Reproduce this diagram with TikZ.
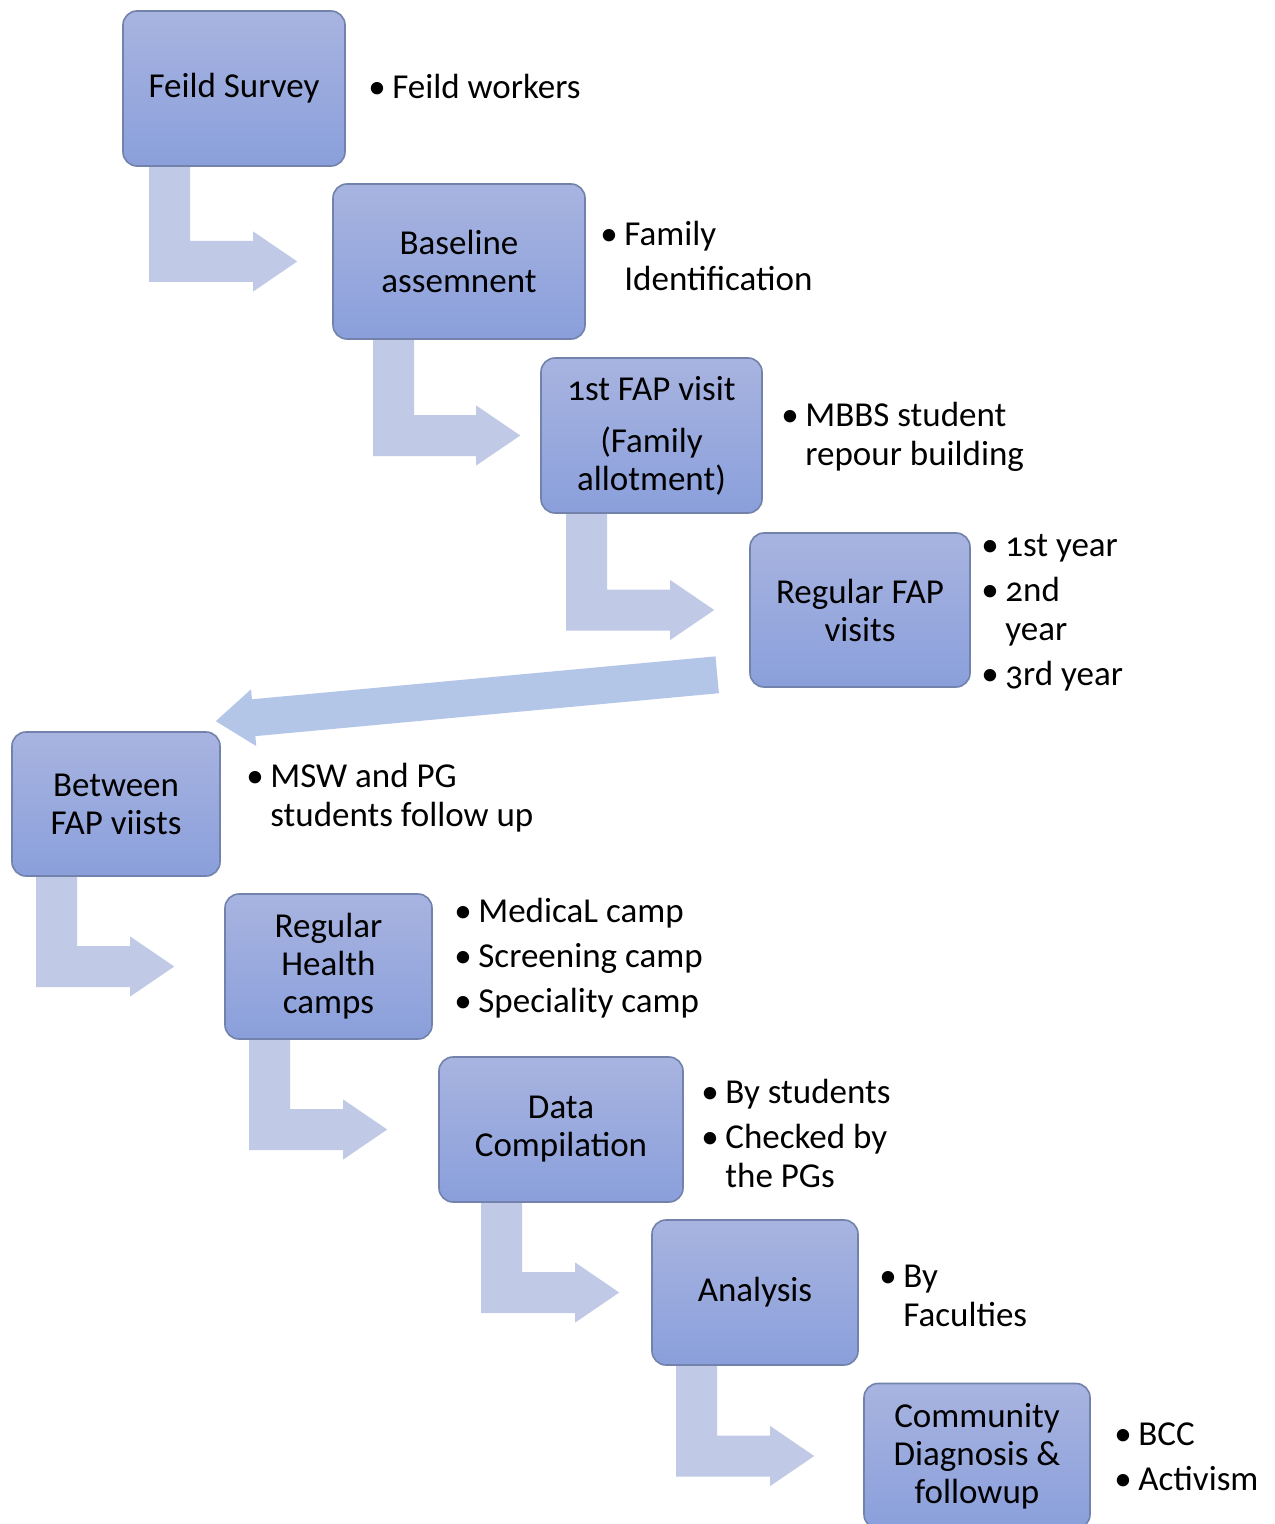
\documentclass[tikz,border=0pt]{standalone}
\usepackage{fontspec}
\setmainfont{Carlito}[Numbers=OldStyle]
\usetikzlibrary{calc,backgrounds}

\definecolor{boxtop}{HTML}{A8B4E0}
\definecolor{boxbot}{HTML}{8A9FDB}
\definecolor{boxline}{HTML}{7282AB}
\definecolor{bentfill}{HTML}{C0CAE6}
\definecolor{longfill}{HTML}{B4C6E7}

% one bullet item inside a note list
\newcommand{\bitem}[1]{\makebox[12pt][l]{\textbullet}&#1}
% bent arrow: from node, to node, bar offset, gap before target
\newcommand{\bentarrow}[4]{%
  \fill[bentfill] let \p1=(#1.south west), \p2=(#2.west) in
    (\x1+#3,\y1) -- (\x1+#3+20.5pt,\y1) -- (\x1+#3+20.5pt,\y2+10.25pt)
    -- (\x2-#4-22pt,\y2+10.25pt) -- (\x2-#4-22pt,\y2+15pt) -- (\x2-#4,\y2)
    -- (\x2-#4-22pt,\y2-15pt) -- (\x2-#4-22pt,\y2-10.25pt)
    -- (\x1+#3,\y2-10.25pt) -- cycle;}

\begin{document}
\begin{tikzpicture}[x=0.5pt, y=-0.5pt,
    stage/.style 2 args={rectangle, draw=boxline, line width=0.8pt,
    top color=boxtop, bottom color=boxbot,
    rounded corners=7pt, align=center, inner sep=2pt,
    minimum width=#1, minimum height=#2,
    font=\fontsize{17.5pt}{19pt}\selectfont},
    note/.style={anchor=west, inner sep=0pt,
    font=\fontsize{17.5pt}{19.5pt}\selectfont}]
    \useasboundingbox (0,0) rectangle (1274,1524);
    % stages
    \node[stage={111pt}{77.5pt}](b1) at (234,88.5) {Feild Survey};
    \node[stage={126pt}{77.5pt}](b2) at (459,261.5) {Baseline\\assemnent};
    \node[stage={110.5pt}{77.5pt}](b3) at (651.5,435.5) {1st FAP visit\\[7pt](Family\\allotment)};
    \node[stage={110pt}{77pt}](b4) at (860,610) {Regular FAP\\visits};
    \node[stage={104pt}{72pt}](b5) at (116,804) {Between\\FAP viists};
    \node[stage={103.5pt}{72.5pt}](b6) at (328.5,966.5) {Regular\\Health\\camps};
    \node[stage={122pt}{72.5pt}](b7) at (561,1129.5) {Data\\Compilation};
    \node[stage={103pt}{72.5pt}](b8) at (755,1292.5) {Analysis};
    \node[stage={113pt}{72.5pt}](b9) at (977,1456) {Community\\Diagnosis \&\\followup};
    % notes
    \node[note](l1) at (368,91) {\begin{tabular}{@{}l@{}l@{}}\bitem{Feild workers}\end{tabular}};
    \node[note](l2) at (600,260) {\begin{tabular}{@{}l@{}l@{}}\bitem{Family}\\[3pt] & Identification\end{tabular}};
    \node[note](l3) at (781,438) {\begin{tabular}{@{}l@{}l@{}}\bitem{MBBS student}\\ & repour building\end{tabular}};
    \node[note](l4) at (981,613) {\begin{tabular}{@{}l@{}l@{}}\bitem{1st year}\\[3pt] \bitem{2nd}\\ & year\\[3pt] \bitem{3rd year}\end{tabular}};
    \node[note](l5) at (246,799) {\begin{tabular}{@{}l@{}l@{}}\bitem{MSW and PG}\\ & students follow up\end{tabular}};
    \node[note](l6) at (454,960) {\begin{tabular}{@{}l@{}l@{}}\bitem{MedicaL camp}\\[3pt] \bitem{Screening camp}\\[3pt] \bitem{Speciality camp}\end{tabular}};
    \node[note](l7) at (701,1138) {\begin{tabular}{@{}l@{}l@{}}\bitem{By students}\\[3pt] \bitem{Checked by}\\ & the PGs\end{tabular}};
    \node[note](l8) at (879,1299) {\begin{tabular}{@{}l@{}l@{}}\bitem{By}\\ & Faculties\end{tabular}};
    \node[note](l9) at (1114,1460) {\begin{tabular}{@{}l@{}l@{}}\bitem{BCC}\\[3pt] \bitem{Activism}\end{tabular}};
    % arrows
    \coordinate (ls) at ($(b4.south west)+(-32,-13)$);
    \coordinate (lt) at ($(b5.north east)+(-5,-10)$);
    \coordinate (hb) at ($(lt)!19pt!(ls)$);
    \begin{scope}[on background layer]
      \fill[white] (0,0) rectangle (1274,1524);
      \bentarrow{b1}{b2}{13.5pt}{17.5pt}
      \bentarrow{b2}{b3}{20.5pt}{10pt}
      \bentarrow{b3}{b4}{13pt}{17.5pt}
      \bentarrow{b5}{b6}{12.5pt}{25pt}
      \bentarrow{b6}{b7}{12.5pt}{25.5pt}
      \bentarrow{b7}{b8}{21.5pt}{16pt}
      \bentarrow{b8}{b9}{12.5pt}{24.5pt}
      \fill[longfill] ($(ls)!9.25pt!90:(lt)$) -- ($(hb)!9.25pt!90:(lt)$)
        -- ($(hb)!14.25pt!90:(lt)$) -- (lt) -- ($(hb)!14.25pt!-90:(lt)$)
        -- ($(hb)!9.25pt!-90:(lt)$) -- ($(ls)!9.25pt!-90:(lt)$) -- cycle;
    \end{scope}
\end{tikzpicture}
\end{document}
